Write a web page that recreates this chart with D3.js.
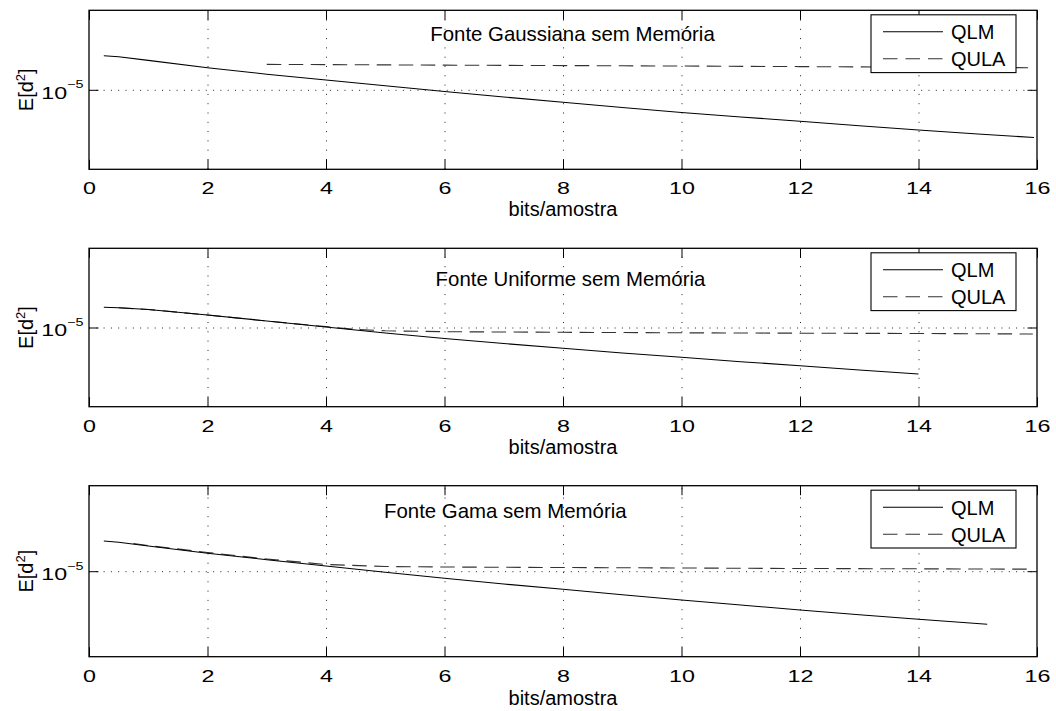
<!DOCTYPE html>
<html>
<head>
<meta charset="utf-8">
<script src="https://cdn.jsdelivr.net/npm/d3@7"></script>
<style>
  html, body { margin: 0; padding: 0; background: #fff; }
  text { font-family: "Liberation Sans", Arial, Helvetica, sans-serif; fill: #000; }
</style>
</head>
<body>
<svg id="chart" width="1056" height="711"></svg>
<script>
// ---- data ----------------------------------------------------------------
const bitTicks = [0, 2, 4, 6, 8, 10, 12, 14, 16];
const gridBits = [2, 4, 6, 8, 10, 12, 14];
const errTicks = [1e-5];
const seriesNames = ["QLM", "QULA"];
const panelTitles = ["Fonte Gaussiana sem Memória", "Fonte Uniforme sem Memória", "Fonte Gama sem Memória"];
const xAxisLabel = "bits/amostra";

// Gaussian source
const gaussQlmBits = [0.25, 0.5, 1, 2, 3, 4, 5, 6, 7, 8, 9, 10, 11, 12, 13, 14, 15, 15.95];
const gaussQlm = [1.38e-3, 1.21e-3, 7.06e-4, 2.45e-4, 9.55e-5, 4.17e-5, 1.78e-5, 7.76e-6, 3.55e-6,
                  1.66e-6, 7.76e-7, 3.72e-7, 1.95e-7, 1.05e-7, 5.50e-8, 2.95e-8, 1.66e-8, 1.00e-8];
const gaussQulaBits = [3, 6, 9, 12, 15.85];
const gaussQula = [3.98e-4, 3.55e-4, 3.24e-4, 2.88e-4, 2.45e-4];

// Uniform source
const unifQlmBits = [0.25, 0.5, 1, 2, 3, 4, 5, 6, 7, 8, 9, 10, 11, 12, 13, 14];
const unifQlm = [1.88e-4, 1.75e-4, 1.37e-4, 6.15e-5, 2.57e-5, 1.08e-5, 4.50e-6, 2.02e-6, 9.77e-7, 4.86e-7,
                 2.45e-7, 1.32e-7, 6.93e-8, 3.82e-8, 2.07e-8, 1.16e-8];
const unifQulaBits = [0.5, 1, 2, 3, 4, 4.5, 5, 6, 8, 10, 12, 14, 15.93];
const unifQula = [1.75e-4, 1.37e-4, 6.15e-5, 2.57e-5, 1.13e-5, 7.48e-6, 6.19e-6, 5.43e-6, 4.98e-6, 4.62e-6,
                  4.37e-6, 4.18e-6, 3.89e-6];

// Gamma source
const gamaQlmBits = [0.25, 0.5, 1, 2, 3, 4, 5, 6, 7, 8, 9, 10, 11, 12, 13, 14, 15.16];
const gamaQlm = [5.83e-4, 4.90e-4, 2.98e-4, 1.11e-4, 4.71e-5, 2.01e-5, 8.63e-6, 3.85e-6, 1.78e-6, 8.75e-7,
                 4.17e-7, 2.07e-7, 1.05e-7, 5.38e-8, 2.86e-8, 1.54e-8, 7.85e-9];
const gamaQulaBits = [0.75, 1, 2, 3, 4, 5, 6, 8, 10, 12, 14, 15.93];
const gamaQula = [4.17e-4, 3.18e-4, 1.24e-4, 5.16e-5, 2.47e-5, 1.88e-5, 1.76e-5, 1.64e-5, 1.54e-5, 1.44e-5,
                  1.38e-5, 1.31e-5];

// ---- layout ----------------------------------------------------------------
const left = 89, right = 1037;
const tickLen = 9.5;
const tickStretch = 1.37;
const panels = [
  { top: 10.3,  bottom: 169.3, title: panelTitles[0], titleBit: 5.76, titleDy: 30.7, xlabDy: 47,
    qlm: [gaussQlmBits, gaussQlm], qula: [gaussQulaBits, gaussQula] },
  { top: 248.3, bottom: 406.7, title: panelTitles[1], titleBit: 5.85, titleDy: 37.2, xlabDy: 47.5,
    qlm: [unifQlmBits, unifQlm], qula: [unifQulaBits, unifQula] },
  { top: 485.7, bottom: 656.7, title: panelTitles[2], titleBit: 4.98, titleDy: 31.8, xlabDy: 48,
    qlm: [gamaQlmBits, gamaQlm], qula: [gamaQulaBits, gamaQula] }
];

const svg = d3.select("#chart");
const x = d3.scaleLinear().domain([0, 16]).range([left, right]);

panels.forEach(p => {
  const y = d3.scaleLog().domain([1e-10, 1]).range([p.bottom, p.top]);
  const h = p.bottom - p.top;
  const g = svg.append("g");

  // dotted grid
  const vGrid = g.append("g").attr("transform", `translate(0,${p.bottom})`)
    .call(d3.axisBottom(x).tickValues(gridBits).tickSize(-h).tickFormat(""));
  vGrid.select(".domain").remove();
  vGrid.selectAll("line").attr("stroke", "#222").attr("stroke-width", 1).attr("stroke-dasharray", "1,8.3");

  const hGrid = g.append("g").attr("transform", `translate(${left},0)`)
    .call(d3.axisLeft(y).tickValues(errTicks).tickSize(-(right - left)).tickFormat(""));
  hGrid.select(".domain").remove();
  hGrid.selectAll("line").attr("stroke", "#222").attr("stroke-width", 1).attr("stroke-dasharray", "1,6.3");

  // curves
  const line = d3.line().x(d => x(d[0])).y(d => y(d[1]));
  const qlmPts = d3.zip(p.qlm[0], p.qlm[1]);
  const qulaPts = d3.zip(p.qula[0], p.qula[1]);
  g.append("path").attr("d", line(qulaPts)).attr("fill", "none")
    .attr("stroke", "#333").attr("stroke-width", 1.1).attr("stroke-dasharray", "14.5,7.5");
  g.append("path").attr("d", line(qlmPts)).attr("fill", "none")
    .attr("stroke", "#000").attr("stroke-width", 1.1);

  // inner ticks on all four sides
  const bottomAx = g.append("g").attr("transform", `translate(0,${p.bottom})`)
    .call(d3.axisBottom(x).tickValues(bitTicks).tickSizeInner(-tickLen).tickSizeOuter(0));
  bottomAx.select(".domain").remove();
  bottomAx.selectAll("line").attr("stroke", "#000");
  bottomAx.selectAll("text")
    .attr("y", 25).attr("dy", null)
    .attr("transform", `scale(${tickStretch},1)`)
    .style("font-size", "17px").style("font-family", "'Liberation Sans', Arial, sans-serif").attr("fill", "#000");

  const topAx = g.append("g").attr("transform", `translate(0,${p.top})`)
    .call(d3.axisTop(x).tickValues(bitTicks).tickSizeInner(-tickLen).tickSizeOuter(0).tickFormat(""));
  topAx.select(".domain").remove();
  topAx.selectAll("line").attr("stroke", "#000");

  const leftAx = g.append("g").attr("transform", `translate(${left},0)`)
    .call(d3.axisLeft(y).tickValues(errTicks).tickSizeInner(-tickLen).tickSizeOuter(0).tickFormat(""));
  leftAx.select(".domain").remove();
  leftAx.selectAll("line").attr("stroke", "#000");
  leftAx.selectAll(".tick").each(function(d) {
    const exp = Math.round(Math.log10(d));
    const t = d3.select(this).append("text")
      .attr("text-anchor", "end")
      .attr("transform", `translate(-5.5,8.3) scale(${tickStretch},1)`)
      .style("font-size", "17px");
    t.append("tspan").text("10");
    t.append("tspan").attr("dy", -10.5).style("font-size", "10.5px").text("\u2212" + Math.abs(exp));
  });

  const rightAx = g.append("g").attr("transform", `translate(${right},0)`)
    .call(d3.axisRight(y).tickValues(errTicks).tickSizeInner(-tickLen).tickSizeOuter(0).tickFormat(""));
  rightAx.select(".domain").remove();
  rightAx.selectAll("line").attr("stroke", "#000");

  // axes box
  g.append("rect").attr("x", left).attr("y", p.top).attr("width", right - left).attr("height", h)
    .attr("fill", "none").attr("stroke", "#000").attr("stroke-width", 1.3);

  // panel annotation
  g.append("text").attr("x", x(p.titleBit)).attr("y", p.top + p.titleDy)
    .style("font-size", "20.4px").text(p.title);

  // axis labels
  g.append("text").attr("x", (left + right) / 2).attr("y", p.bottom + p.xlabDy)
    .attr("text-anchor", "middle").style("font-size", "20px").text(xAxisLabel);
  const yl = g.append("text")
    .attr("transform", `translate(33.3,${(p.top + p.bottom) / 2}) rotate(-90)`)
    .attr("text-anchor", "middle").style("font-size", "20px");
  yl.append("tspan").text("E[d");
  yl.append("tspan").attr("dy", -8).style("font-size", "13px").text("2");
  yl.append("tspan").attr("dy", 8).text("]");

  // legend
  const lx = 871, lw = 145, ly = p.top + 4.5, lh = 57.8;
  const lg = g.append("g");
  lg.append("rect").attr("x", lx).attr("y", ly).attr("width", lw).attr("height", lh)
    .attr("fill", "#fff").attr("stroke", "#000").attr("stroke-width", 1.1);
  seriesNames.forEach((name, i) => {
    const yy = ly + 17 + i * 27;
    lg.append("line").attr("x1", lx + 12).attr("x2", lx + 72).attr("y1", yy).attr("y2", yy)
      .attr("stroke", i === 0 ? "#000" : "#333").attr("stroke-width", 1.1)
      .attr("stroke-dasharray", i === 0 ? null : "14.5,8");
    lg.append("text").attr("x", lx + 80).attr("y", yy + 7.5).style("font-size", "20px").text(name);
  });
});
</script>
</body>
</html>
